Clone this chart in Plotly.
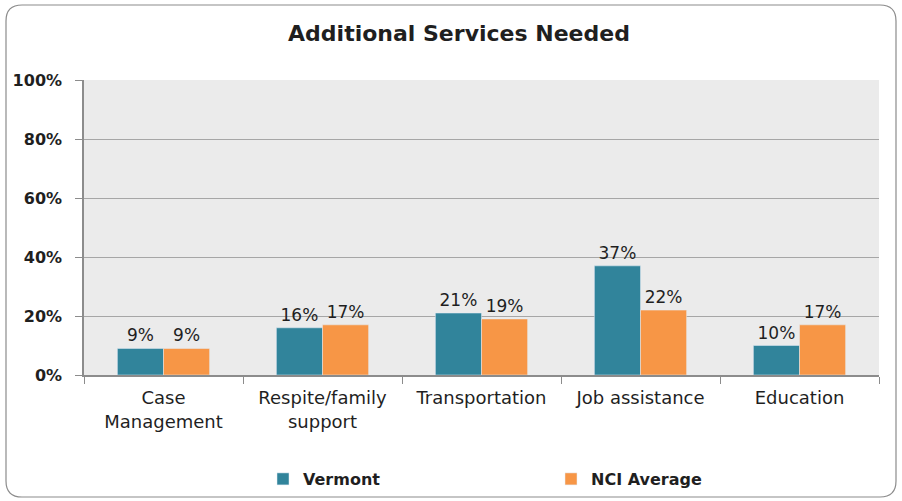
import plotly.graph_objects as go

# Chart data
categories = ["Case<br>Management", "Respite/family<br>support", "Transportation",
              "Job assistance", "Education"]
vermont = [9, 16, 21, 37, 10]
nci_average = [9, 17, 19, 22, 17]
y_ticks = [0, 20, 40, 60, 80, 100]
y_tick_labels = [f"{v}%" for v in y_ticks]

TEAL = "#31849B"
ORANGE = "#F79646"
TEXT = "#1F1F1F"
FONT = "DejaVu Sans"

fig = go.Figure()
fig.add_trace(go.Bar(
    name="<b>Vermont</b>", x=categories, y=vermont, marker_color=TEAL,
    text=[f"{v}%" for v in vermont], textposition="outside",
    textfont=dict(size=17, color=TEXT, family=FONT), cliponaxis=False,
))
fig.add_trace(go.Bar(
    name="<b>NCI Average</b>", x=categories, y=nci_average, marker_color=ORANGE,
    text=[f"{v}%" for v in nci_average], textposition="outside",
    textfont=dict(size=17, color=TEXT, family=FONT), cliponaxis=False,
))

W, H = 902, 501
L, R, T, B = 84, 23, 80, 126
pw, ph = W - L - R, H - T - B

def px_x(x):
    return (x - L) / pw

def px_y(y):
    return (H - B - y) / ph

# rounded outer frame, expressed in paper coordinates
x0, x1, y0, y1, r = 6, 896, 5, 497, 16
path = (
    f"M {px_x(x0 + r)},{px_y(y0)} L {px_x(x1 - r)},{px_y(y0)} "
    f"Q {px_x(x1)},{px_y(y0)} {px_x(x1)},{px_y(y0 + r)} "
    f"L {px_x(x1)},{px_y(y1 - r)} Q {px_x(x1)},{px_y(y1)} {px_x(x1 - r)},{px_y(y1)} "
    f"L {px_x(x0 + r)},{px_y(y1)} Q {px_x(x0)},{px_y(y1)} {px_x(x0)},{px_y(y1 - r)} "
    f"L {px_x(x0)},{px_y(y0 + r)} Q {px_x(x0)},{px_y(y0)} {px_x(x0 + r)},{px_y(y0)} Z"
)

fig.update_layout(
    width=W, height=H,
    margin=dict(l=L, r=R, t=T, b=B, autoexpand=False),
    paper_bgcolor="white",
    plot_bgcolor="#EBEBEB",
    barmode="group",
    bargap=0.42,
    bargroupgap=0,
    font=dict(family=FONT, color=TEXT),
    title=dict(text="<b>Additional Services Needed</b>", x=459 / W, xanchor="center",
               y=1 - 33 / H, yanchor="middle",
               font=dict(size=22, color=TEXT, family=FONT)),
    showlegend=True,
    legend=dict(orientation="h", x=px_x(263), xanchor="left",
                y=px_y(479), yanchor="middle",
                entrywidth=243, entrywidthmode="pixels",
                font=dict(size=16, color=TEXT, family=FONT),
                itemwidth=30, traceorder="normal"),
    shapes=[dict(type="path", path=path, xref="paper", yref="paper",
                 line=dict(color="#8C8C8C", width=1.2), layer="below")],
)

fig.update_xaxes(
    showline=True, linecolor="#8C8C8C", linewidth=1.5,
    ticks="outside", tickson="boundaries", ticklen=7, tickcolor="#8C8C8C",
    tickfont=dict(size=18, color=TEXT, family=FONT),
    ticklabelstandoff=6,
    showgrid=False,
)
fig.update_yaxes(
    range=[0, 100], tickvals=y_ticks,
    ticktext=[f"<b>{t}</b>" for t in y_tick_labels],
    showline=True, linecolor="#8C8C8C", linewidth=1.5,
    ticks="outside", ticklen=7, tickcolor="#8C8C8C",
    tickfont=dict(size=16, color=TEXT, family=FONT),
    ticklabelstandoff=10,
    showgrid=True, gridcolor="#A6A6A6", gridwidth=1.2,
    zeroline=False,
)

fig.write_html("out.html")
